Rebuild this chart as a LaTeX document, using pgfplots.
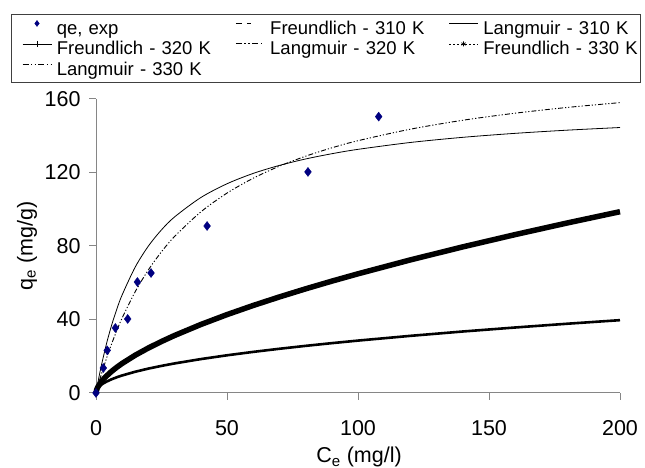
\documentclass[border=0pt]{standalone}
\usepackage{fontspec}
\setmainfont{Liberation Sans}
\usepackage{pgfplots}
\pgfplotsset{compat=1.18}
\definecolor{navyblue}{RGB}{0,0,128}
\definecolor{axgray}{RGB}{134,134,134}
\newcommand{\legfont}{\fontsize{18.5}{20}\selectfont}
\newcommand{\bigfont}{\fontsize{21.5}{24}\selectfont}
\pgfplotsset{legend image code/.code={\draw[mark repeat=2,mark phase=2,yshift=6pt,#1] plot coordinates {(0pt,0pt) (14.5pt,0pt) (29pt,0pt)};}}
\begin{document}
\begin{tikzpicture}
\begin{axis}[
  at={(96pt,75pt)}, anchor=south west,
  scale only axis, width=524pt, height=294pt,
  xmin=0, xmax=200, ymin=0, ymax=160,
  xtick={0,50,100,150,200}, ytick={0,40,80,120,160},
  axis lines*=left,
  axis line style={draw=axgray, line width=1pt},
  tick style={draw=axgray, line width=1pt},
  tick align=outside, major tick length=7pt,
  /pgf/number format/assume math mode=true,
  tick label style={font=\bigfont},
  xticklabel style={yshift=-17pt},
  yticklabel style={xshift=-5pt},
  every axis x label/.style={at={(axis description cs:0.502,-0.238)}, anchor=base, font=\bigfont},
  every axis y label/.style={at={(axis description cs:-0.1317,0.5)}, rotate=90, anchor=center, font=\bigfont},
  xlabel={\bigfont C\textsubscript{e} (mg/l)},
  ylabel={\bigfont q\textsubscript{e} (mg/g)},
  clip=false,
  legend columns=3,
  legend cell align=left,
  legend style={draw=none, fill=none, inner sep=0pt,
    at={(-0.14122,1.2721)}, anchor=north west,
    font=\legfont,
    row sep=0pt, column sep=0pt,
    nodes={font=\legfont, inner xsep=5pt, inner ysep=1pt, text height=14pt, text depth=4.5pt, text width=173.5pt},
    column 6/.style={nodes={text width=155pt}}},
]
% legend entries
\addlegendimage{only marks, mark=diamond*, mark size=3pt, color=navyblue}
\addlegendentry{\legfont qe, exp}
\addlegendimage{black, line width=0.6pt, dash pattern=on 6pt off 5pt on 4pt off 20pt}
\addlegendentry{\legfont Freundlich - 310 K}
\addlegendimage{black, line width=0.6pt}
\addlegendentry{\legfont Langmuir - 310 K}
\addlegendimage{black, line width=0.6pt, mark=|, mark size=3pt}
\addlegendentry{\legfont Freundlich - 320 K}
\addlegendimage{black, line width=0.9pt, dash pattern=on 6pt off 2.5pt on 1.5pt off 2.5pt on 1.5pt off 2.5pt}
\addlegendentry{\legfont Langmuir - 320 K}
\addlegendimage{black, line width=0.7pt, dash pattern=on 1.5pt off 2.5pt, mark=asterisk, mark size=2.5pt, mark options={solid}}
\addlegendentry{\legfont Freundlich - 330 K}
\addlegendimage{black, line width=0.6pt, dash pattern=on 6pt off 2.5pt on 1.2pt off 2.5pt on 1.2pt off 2.5pt}
\addlegendentry{\legfont Langmuir - 330 K}

% Freundlich - 310 K and 320 K (lower curve)
\addplot[forget plot, black, line width=2.6pt, line join=round] coordinates {
(0,0) (0.25,1.66) (0.5,2.30) (1,3.20) (2,4.45) (3,5.39) (4,6.18) (6,7.50) (8,8.59) (10,9.55) (15,11.58) (20,13.28) (25,14.76) (30,16.10) (40,18.45) (50,20.52) (60,22.37) (70,24.07) (80,25.65) (90,27.13) (100,28.52) (120,31.10) (140,33.47) (160,35.65) (180,37.71) (200,39.64)};
% Freundlich - 330 K (thick star curve)
\addplot[forget plot, black, line width=5.5pt, line join=round] coordinates {
(0,0) (0.25,1.73) (0.5,2.63) (1,4.00) (2,6.08) (3,7.77) (4,9.25) (6,11.83) (8,14.08) (10,16.11) (15,20.59) (20,24.50) (25,28.04) (30,31.31) (40,37.27) (50,42.66) (60,47.63) (70,52.28) (80,56.68) (90,60.87) (100,64.87) (120,72.44) (140,79.52) (160,86.21) (180,92.58) (200,98.67)};
% Langmuir - 310 K
\addplot[forget plot, black, line width=0.8pt, smooth] coordinates {
(0,0) (1,7.67) (2,14.64) (4,26.80) (6,37.07) (8,45.86) (10,53.46) (15,68.63) (20,79.98) (25,88.79) (30,95.83) (40,106.36) (50,113.87) (60,119.50) (70,123.86) (80,127.36) (90,130.21) (100,132.60) (120,136.34) (140,139.14) (160,141.31) (180,143.05) (200,144.48)};
% Langmuir - 320 K / 330 K
\addplot[forget plot, black, line width=0.9pt, smooth, dash pattern=on 5pt off 2pt on 1.2pt off 2pt on 1.2pt off 2pt] coordinates {
(0,0) (1,5.09) (2,9.92) (4,18.83) (6,26.88) (8,34.20) (10,40.87) (15,55.24) (20,67.02) (25,76.85) (30,85.19) (40,98.55) (50,108.78) (60,116.88) (70,123.44) (80,128.86) (90,133.42) (100,137.31) (120,143.57) (140,148.43) (160,152.28) (180,155.42) (200,158.02)};
% experimental
\addplot[forget plot, only marks, mark=diamond*, mark size=4.5pt, color=navyblue] coordinates {
(0,0) (2.8,13.6) (4.3,23.2) (7.4,35.4) (12.1,40.3) (15.8,60.4) (21,65.3) (42.4,90.9) (80.9,120.3) (107.9,150.4)};
\end{axis}
\draw[black!75, line width=0.9pt] (11pt,386pt) rectangle (640pt,454pt);
\pgfresetboundingbox
\path[use as bounding box] (0pt,0pt) rectangle (645pt,468pt);
\end{tikzpicture}
\end{document}
